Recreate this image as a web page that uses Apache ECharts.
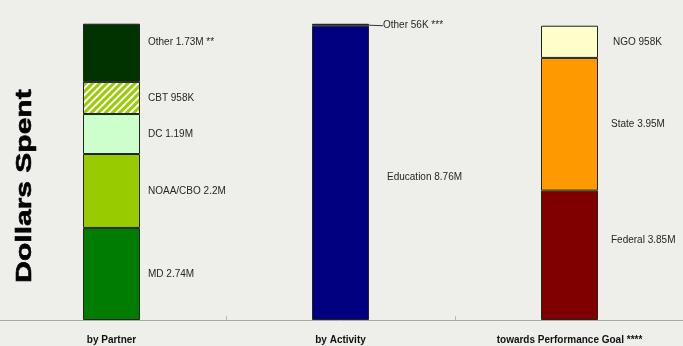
<!DOCTYPE html>
<html>
<head>
<meta charset="utf-8">
<script src="https://cdn.jsdelivr.net/npm/echarts@6/dist/echarts.min.js"></script>
<style>
  html, body { margin: 0; padding: 0; background: #eeeeea; overflow: hidden; }
  #chart { width: 687px; height: 346px; margin-left: -3px; }
</style>
</head>
<body>
<div id="chart"></div>
<script>
// Spending, in millions of dollars, split three ways
const categories = ['by Partner', 'by Activity', 'towards Performance Goal ****'];

const partnerNames  = ['MD', 'NOAA/CBO', 'DC', 'CBT', 'Other'];
const partnerValues = [2.74, 2.2, 1.19, 0.958, 1.73];
const partnerNotes  = ['', '', '', '', ' **'];

const activityNames  = ['Education', 'Other'];
const activityValues = [8.76, 0.056];
const activityNotes  = ['', ' ***'];

const goalNames  = ['Federal', 'State', 'NGO'];
const goalValues = [3.85, 3.95, 0.958];
const goalNotes  = ['', '', ''];

function money(v) {
  return v < 1 ? Math.round(v * 1000) + 'K' : v + 'M';
}

const partnerColors  = ['#007d00', '#99cc00', '#ccffcc', '#ffffff', '#003300'];
const activityColors = ['#000080', '#000080'];
const goalColors     = ['#800000', '#ff9900', '#ffffcc'];

const FONT = '"Liberation Sans", Arial, sans-serif';

function segments(catIndex, names, values, notes, colors, labelOpts) {
  return names.map((name, i) => {
    const data = categories.map((_, c) => (c === catIndex ? values[i] : null));
    const extra = labelOpts[i] || {};
    const s = {
      name: name,
      type: 'bar',
      stack: 'total',
      barWidth: 57,
      data: data,
      itemStyle: { color: colors[i], borderColor: '#1f241f', borderWidth: 1 },
      label: Object.assign({
        show: true,
        position: 'right',
        distance: 8,
        color: '#262626',
        fontFamily: FONT,
        fontSize: 10,
        formatter: () => name + ' ' + money(values[i]) + notes[i]
      }, extra.label || {}),
      labelLayout: extra.layout || undefined,
      labelLine: extra.line || undefined
    };
    if (extra.decal) s.itemStyle.decal = extra.decal;
    return s;
  });
}

const series = [].concat(
  segments(0, partnerNames, partnerValues, partnerNotes, partnerColors, [
    {}, {}, {},
    { decal: { symbol: 'rect', color: '#99cc00', dashArrayX: [1, 0], dashArrayY: [3, 2], rotation: -Math.PI / 4 } },
    { layout: { dy: -11 } }
  ]),
  segments(1, activityNames, activityValues, activityNotes, activityColors, [
    { label: { distance: 18 }, layout: { dy: 4 } },
    { label: { distance: 0 }, layout: { dx: 14, dy: 1 }, line: { show: true, lineStyle: { color: '#333', width: 1 } } }
  ]),
  segments(2, goalNames, goalValues, goalNotes, goalColors, [
    { label: { distance: 13 }, layout: { dy: -15 } },
    { label: { distance: 13 } },
    { label: { distance: 15 } }
  ])
);

const chart = echarts.init(document.getElementById('chart'), null, { renderer: 'canvas' });
chart.setOption({
  backgroundColor: '#eeeeea',
  animation: false,
  grid: { left: 0, right: 0, top: 17.6, bottom: 26 },
  xAxis: {
    type: 'category',
    data: categories,
    axisLine: { lineStyle: { color: '#a8a8a4', width: 1 } },
    axisTick: { show: true, inside: true, length: 4, lineStyle: { color: '#b8b8b4' } },
    axisLabel: { margin: 15, color: '#111', fontFamily: FONT, fontSize: 10, fontWeight: 'bold' }
  },
  yAxis: {
    type: 'value',
    min: 0,
    max: 9,
    show: false,
    splitLine: { show: false }
  },
  graphic: [{
    type: 'text',
    x: 28,
    y: 186,
    rotation: Math.PI / 2,
    scaleY: 0.74,
    style: {
      text: 'Dollars Spent',
      font: 'bold 30px ' + FONT,
      fill: '#000',
      stroke: '#000',
      lineWidth: 0.8,
      textAlign: 'center',
      textVerticalAlign: 'middle'
    }
  }],
  series: series
});
</script>
</body>
</html>
